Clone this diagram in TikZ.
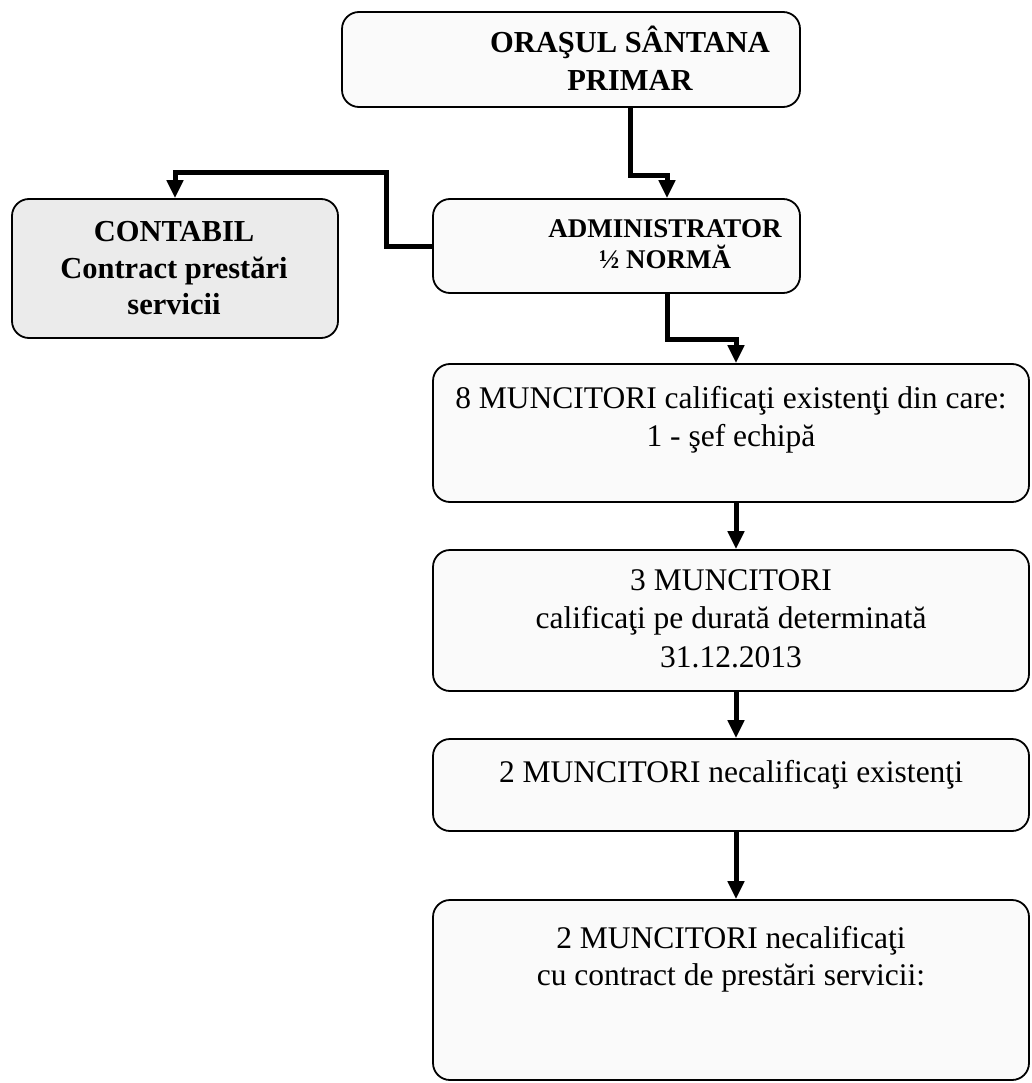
\documentclass[tikz,border=0pt]{standalone}
\usepackage{fontspec}
\setmainfont{Liberation Serif}
\usetikzlibrary{arrows.meta}
\begin{document}
\begin{tikzpicture}[x=1pt,y=-1pt,
  box/.style={draw=black, line width=1.8pt, rounded corners=17pt, fill=gray!4, inner sep=0pt},
  graybox/.style={box, fill=gray!16},
  conn/.style={line width=5pt, -{Triangle[width=16pt,length=18pt]}},
  bt/.style={font=\bfseries\fontsize{30.5}{36}\selectfont, inner sep=0pt, anchor=base},
  bs/.style={font=\bfseries\fontsize{27}{32}\selectfont, inner sep=0pt, anchor=base},
  rt/.style={font=\fontsize{31.5}{38}\selectfont, inner sep=0pt, anchor=base}]
\useasboundingbox (0,0) rectangle (1031,1083);

% boxes
\node[box, minimum width=458pt, minimum height=95pt] (primar) at (571,59.5) {};
\node[box, minimum width=367pt, minimum height=94pt] (admin) at (616.5,246) {};
\node[graybox, minimum width=326pt, minimum height=139pt] (contabil) at (175,268.5) {};
\node[box, minimum width=596pt, minimum height=138pt] (b8) at (731,433) {};
\node[box, minimum width=596pt, minimum height=141pt] (b3) at (731,620.5) {};
\node[box, minimum width=596pt, minimum height=92pt] (b6) at (731,785) {};
\node[box, minimum width=596pt, minimum height=180pt] (b7) at (731,990) {};

% texts
\node[bt] (primarA) at (630,53) {ORAŞUL SÂNTANA};
\node[bt] (primarB) at (630,91) {PRIMAR};
\node[bs] (adminA) at (665,237) {ADMINISTRATOR};
\node[bs] (adminB) at (665,269) {½ NORMĂ};
\node[bt] (contA) at (174,242) {CONTABIL};
\node[bt] (contB) at (174,278) {Contract prestări};
\node[bt] (contC) at (174,314) {servicii};
\node[rt] (b8A) at (731,408) {8 MUNCITORI calificaţi existenţi din care:};
\node[rt] (b8B) at (731,446) {1 - şef echipă};
\node[rt] (b3A) at (731,590) {3 MUNCITORI};
\node[rt] (b3B) at (731,628) {calificaţi pe durată determinată};
\node[rt] (b3C) at (731,667) {31.12.2013};
\node[rt] (b6A) at (731,782) {2 MUNCITORI necalificaţi existenţi};
\node[rt] (b7A) at (731,948) {2 MUNCITORI necalificaţi};
\node[rt] (b7B) at (731,985) {cu contract de prestări servicii:};

% connectors
\draw[conn] ([xshift=59pt]primar.south) -- ++(0,68) -| ([xshift=50.5pt]admin.north);
\draw[conn] (admin.west) -- ++(-46,0) -- ++(0,-73) -| (contabil.north);
\draw[conn] ([xshift=50.5pt]admin.south) -- ++(0,46) -| ([xshift=5pt]b8.north);
\draw[conn] ([xshift=5pt]b8.south) -- ([xshift=5pt]b3.north);
\draw[conn] ([xshift=5pt]b3.south) -- ([xshift=5pt]b6.north);
\draw[conn] ([xshift=5pt]b6.south) -- ([xshift=5pt]b7.north);
\end{tikzpicture}
\end{document}
